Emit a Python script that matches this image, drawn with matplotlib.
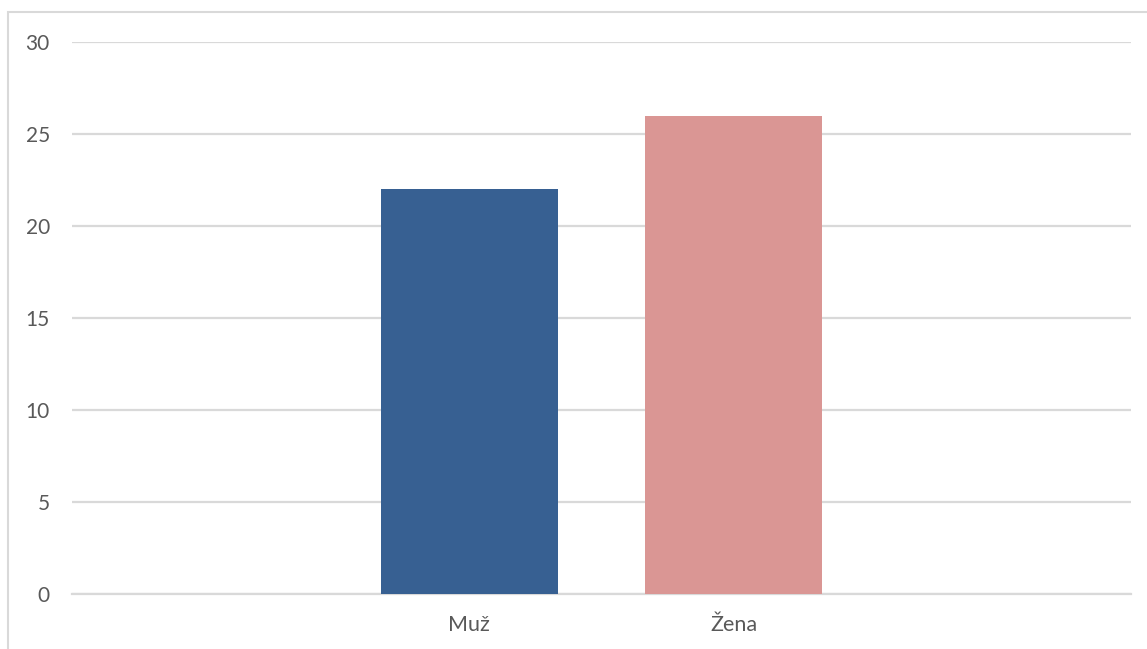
import matplotlib.pyplot as plt
from matplotlib.patches import Rectangle

# data
kategorie = ["Muž", "Žena"]
hodnoty = [22, 26]
barvy = ["#376092", "#DA9694"]
y_ticks = [0, 5, 10, 15, 20, 25, 30]

plt.rcParams['font.family'] = ['Lato', 'DejaVu Sans']

fig = plt.figure(figsize=(11.47, 6.49), dpi=100)
W, H = 1147, 649
ax = fig.add_axes([72 / W, 1 - 594 / H, (1131 - 72) / W, (594 - 42) / H])

x = list(range(len(kategorie)))
ax.bar(x, hodnoty, width=0.668, color=barvy, zorder=3)
ax.set_xlim(-1.5, 2.5)
ax.set_ylim(0, 30)
ax.set_yticks(y_ticks)
ax.set_xticks(x)
ax.set_xticklabels(kategorie)
ax.yaxis.grid(True, color="#d9d9d9", linewidth=1.6, zorder=0)
for s in ax.spines.values():
    s.set_visible(False)
ax.spines['bottom'].set_visible(True)
ax.spines['bottom'].set_color("#d9d9d9")
ax.spines['bottom'].set_linewidth(1.6)
ax.tick_params(axis='y', length=0, pad=16, labelsize=15, labelcolor="#595959")
ax.tick_params(axis='x', length=0, pad=15, labelsize=15.5, labelcolor="#595959")

# ramecek grafu
fig.patches.append(Rectangle((8 / W, -0.1), 1.2, 1 - 12 / H + 0.1,
                             transform=fig.transFigure, fill=False,
                             edgecolor="#d9d9d9", linewidth=1.5))

fig.savefig("out.png", dpi=100)
